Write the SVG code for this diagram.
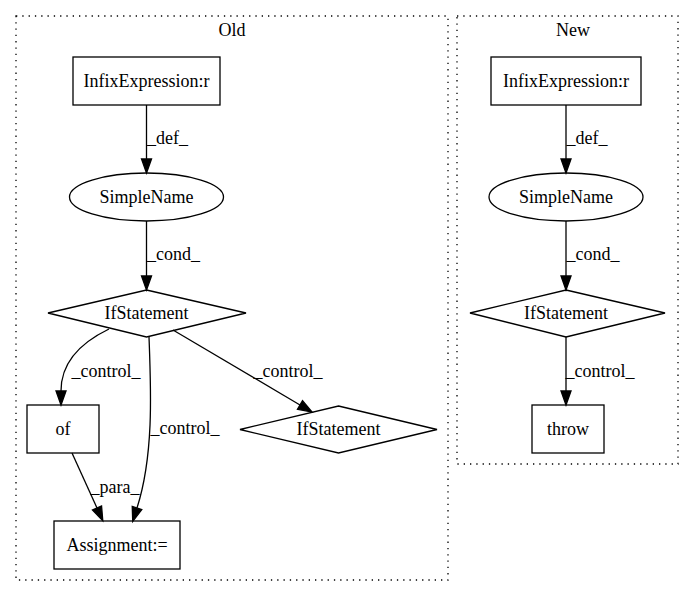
<svg xmlns="http://www.w3.org/2000/svg" width="693" height="596" viewBox="0 0 693 596">
<style>
text{font-family:"Liberation Serif","Times New Roman",serif;font-size:18px;fill:#000;text-anchor:middle}
.n{fill:none;stroke:#000;stroke-width:1.3}
.c{fill:none;stroke:#000;stroke-width:1.3;stroke-dasharray:1.3,5}
.e{fill:none;stroke:#000;stroke-width:1.3;marker-end:url(#a)}
</style>
<defs>
<marker id="a" markerWidth="15" markerHeight="11" refX="0" refY="5" orient="auto" markerUnits="userSpaceOnUse" overflow="visible">
<path d="M0,0 L14,5 L0,10 z" fill="#000" stroke="#000" stroke-width="1.3"/>
</marker>
</defs>
<rect width="693" height="596" fill="#fff"/>
<g id="cluster_old">
<rect class="c" x="16" y="16" width="432" height="564"/>
<text x="232" y="36">Old</text>
</g>
<g id="cluster_new">
<rect class="c" x="457" y="16" width="221" height="448"/>
<text x="573" y="36">New</text>
</g>
<g id="old_infix">
<rect class="n" x="73" y="57" width="147" height="48"/>
<text x="146.5" y="87">InfixExpression:r</text>
</g>
<g id="old_simplename">
<ellipse class="n" cx="146.5" cy="197" rx="77" ry="24"/>
<text x="146.5" y="203">SimpleName</text>
</g>
<g id="old_if">
<polygon class="n" points="146.5,290 246,313 146.5,337 48,313"/>
<text x="146.5" y="319">IfStatement</text>
</g>
<g id="old_of">
<rect class="n" x="27" y="405" width="72" height="48"/>
<text x="63" y="435">of</text>
</g>
<g id="old_if2">
<polygon class="n" points="338.5,406 437,429.5 338.5,453 240,429.5"/>
<text x="338.5" y="435">IfStatement</text>
</g>
<g id="old_assign">
<rect class="n" x="54" y="521" width="126" height="48"/>
<text x="117" y="551">Assignment:=</text>
</g>
<g id="new_infix">
<rect class="n" x="491" y="57" width="150" height="48"/>
<text x="566" y="87">InfixExpression:r</text>
</g>
<g id="new_simplename">
<ellipse class="n" cx="566" cy="197" rx="77" ry="24"/>
<text x="566" y="203">SimpleName</text>
</g>
<g id="new_if">
<polygon class="n" points="566,290 665,313 566,337 470,313"/>
<text x="566" y="319">IfStatement</text>
</g>
<g id="new_throw">
<rect class="n" x="532" y="405" width="72" height="48"/>
<text x="568" y="435">throw</text>
</g>
<g id="edges">
<path class="e" d="M146.5,105 L146.5,159"/>
<text x="167.5" y="144">_def_</text>
<path class="e" d="M146.5,221 L146.5,276"/>
<text x="173.5" y="260">_cond_</text>
<path class="e" d="M109,329 C82,342 61,362 61,391"/>
<text x="106" y="377">_control_</text>
<path class="e" d="M149,337 C151,390 154,455 137,508"/>
<text x="185" y="434">_control_</text>
<path class="e" d="M173,330 L300,405"/>
<text x="288" y="377">_control_</text>
<path class="e" d="M72,453 L97,508"/>
<text x="115" y="493">_para_</text>
<path class="e" d="M566,105 L566,159"/>
<text x="587" y="144">_def_</text>
<path class="e" d="M566,221 L566,276"/>
<text x="593" y="260">_cond_</text>
<path class="e" d="M566,337 L566,391"/>
<text x="600" y="377">_control_</text>
</g>
</svg>
